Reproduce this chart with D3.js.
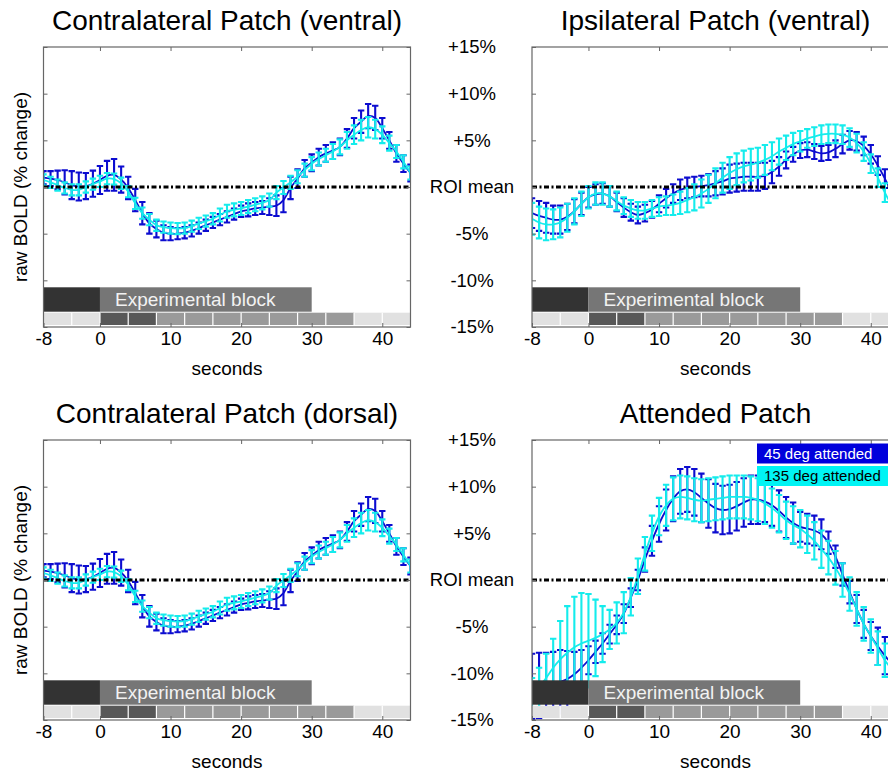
<!DOCTYPE html>
<html>
<head>
<meta charset="utf-8">
<title>Patch time courses</title>
<script src="https://cdn.jsdelivr.net/npm/d3@7/dist/d3.min.js"></script>
<style>
  html, body { margin: 0; padding: 0; background: #fff; }
  svg { display: block; font-family: "Liberation Sans", Arial, Helvetica, sans-serif; }
</style>
</head>
<body>
<div id="viz-container"></div>
<script>
/**
 * Raw BOLD time courses per patch, two attention conditions
 */

// Sample times (seconds), one per TR
const seconds = [-8, -7, -6, -5, -4, -3, -2, -1, 0, 1, 2, 3, 4, 5, 6, 7, 8, 9, 10, 11, 12, 13, 14, 15,
    16, 17, 18, 19, 20, 21, 22, 23, 24, 25, 26, 27, 28, 29, 30, 31, 32, 33, 34, 35, 36, 37, 38, 39,
    40, 41, 42, 43, 44];

const seriesNames = ["45 deg attended", "135 deg attended"];
const panelTitles = ["Contralateral Patch (ventral)", "Ipsilateral Patch (ventral)",
    "Contralateral Patch (dorsal)", "Attended Patch"];

const xTicks = [-8, 0, 10, 20, 30, 40];
const xTickLabels = ["-8", "0", "10", "20", "30", "40"];
const yTicks = [-15, -10, -5, 0, 5, 10, 15];
const yTickLabels = ["-15%", "-10%", "-5%", "ROI mean", "+5%", "+10%", "+15%"];

// Block design (upper bar)
const blockStarts = [-8, 0];
const blockEnds = [0, 30];
const blockKinds = ["pre", "block"];
const blockLabels = ["", "Experimental block"];

// 4 s frames (lower strip)
const frameStarts = [-8, -4, 0, 4, 8, 12, 16, 20, 24, 28, 32, 36, 40];
const frameEnds = [-4, 0, 4, 8, 12, 16, 20, 24, 28, 32, 36, 40, 44];
const frameKinds = ["rest", "rest", "cue", "cue", "stim", "stim", "stim", "stim", "stim", "stim", "stim", "rest", "rest"];

// Contralateral patch (ventral / dorsal look the same)
const contraBlueMean = [
    1.0, 0.9, 0.75, 0.5, 0.2, 0.05, 0.1, 0.35, 0.75, 1.2,
    1.3, 0.8, -0.1, -1.4, -2.8, -3.9, -4.5, -4.9, -5.0, -5.0,
    -4.9, -4.7, -4.4, -4.1, -3.8, -3.5, -3.2, -2.9, -2.6, -2.45,
    -2.3, -2.2, -2.1, -2.0, -1.4, -0.1, 0.9, 2.0, 2.6, 3.2,
    3.6, 3.9, 4.3, 5.2, 6.3, 7.0, 7.6, 7.4, 6.3, 5.0,
    3.6, 2.5, 1.5];
const contraBlueErr = [
    0.7, 0.8, 1.0, 1.3, 1.5, 1.5, 1.4, 1.4, 1.5, 1.6,
    1.7, 1.4, 1.2, 1.2, 1.2, 1.1, 0.9, 0.8, 0.7, 0.6,
    0.6, 0.6, 0.6, 0.6, 0.6, 0.6, 0.6, 0.6, 0.6, 0.7,
    0.7, 0.7, 0.9, 1.1, 1.3, 1.2, 1.0, 0.9, 0.9, 0.9,
    0.9, 0.9, 0.9, 1.0, 1.1, 1.2, 1.3, 1.3, 1.1, 0.9,
    0.9, 0.9, 0.9];
const contraCyanMean = [
    0.75, 0.5, 0.2, -0.1, -0.3, -0.3, 0.0, 0.3, 0.6, 0.9,
    0.85, 0.4, -0.5, -1.75, -2.8, -3.5, -4.1, -4.3, -4.4, -4.45,
    -4.4, -4.2, -3.9, -3.65, -3.4, -3.0, -2.6, -2.45, -2.3, -2.1,
    -1.9, -1.7, -1.4, -0.6, -0.05, 0.5, 1.1, 1.8, 2.5, 3.0,
    3.4, 3.8, 4.3, 5.0, 5.6, 6.1, 6.4, 6.2, 5.6, 4.7,
    3.8, 2.7, 1.5];
const contraCyanErr = [
    0.6, 0.6, 0.6, 0.6, 0.6, 0.6, 0.6, 0.6, 0.6, 0.6,
    0.6, 0.6, 0.6, 0.6, 0.6, 0.6, 0.6, 0.6, 0.6, 0.6,
    0.6, 0.6, 0.6, 0.6, 0.6, 0.7, 0.7, 0.7, 0.7, 0.7,
    0.7, 0.7, 0.7, 0.7, 0.7, 0.7, 0.7, 0.7, 0.7, 0.7,
    0.7, 0.8, 0.8, 0.9, 1.0, 1.1, 1.1, 1.0, 0.9, 0.8,
    0.7, 0.7, 0.7];

// Ipsilateral patch (ventral)
const ipsiBlueMean = [
    -2.8, -3.1, -3.3, -3.5, -3.5, -3.2, -2.6, -1.8, -1.1, -0.8,
    -0.7, -1.0, -1.6, -2.2, -2.7, -3.0, -2.8, -2.4, -1.8, -1.2,
    -0.7, -0.3, -0.1, 0.0, 0.1, 0.2, 0.4, 0.6, 0.9, 1.0,
    1.1, 1.1, 1.1, 1.2, 1.6, 2.2, 2.9, 3.5, 3.9, 4.0,
    3.8, 3.6, 3.7, 4.1, 4.6, 5.0, 4.9, 4.4, 3.5, 2.3,
    0.9, -0.6, -2.0];
const ipsiBlueErr = [
    1.6, 1.6, 1.6, 1.5, 1.5, 1.4, 1.3, 1.2, 1.1, 1.1,
    1.1, 1.1, 1.0, 1.0, 0.9, 0.9, 0.9, 0.9, 0.9, 1.0,
    1.0, 1.1, 1.1, 1.1, 1.1, 1.2, 1.3, 1.4, 1.5, 1.5,
    1.5, 1.5, 1.5, 1.4, 1.2, 1.0, 0.9, 0.8, 0.8, 0.8,
    0.8, 0.8, 0.8, 0.9, 1.0, 1.0, 1.0, 1.0, 1.0, 1.0,
    1.0, 1.0, 1.0];
const ipsiCyanMean = [
    -3.4, -3.8, -4.0, -4.0, -3.8, -3.3, -2.6, -1.8, -1.1, -0.7,
    -0.7, -1.0, -1.5, -2.0, -2.3, -2.5, -2.5, -2.3, -2.1, -2.0,
    -1.9, -1.7, -1.4, -1.1, -0.7, -0.2, 0.4, 1.0, 1.5, 1.9,
    2.2, 2.4, 2.6, 2.9, 3.3, 3.8, 4.2, 4.6, 4.9, 5.2,
    5.4, 5.6, 5.7, 5.7, 5.6, 5.3, 4.7, 3.8, 2.5, 1.0,
    -0.6, -2.0, -3.2];
const ipsiCyanErr = [
    1.7, 1.7, 1.7, 1.6, 1.6, 1.5, 1.4, 1.3, 1.2, 1.2,
    1.2, 1.1, 1.0, 0.9, 0.9, 0.9, 0.9, 0.9, 1.0, 1.0,
    1.1, 1.2, 1.3, 1.4, 1.5, 1.5, 1.6, 1.6, 1.7, 1.7,
    1.7, 1.7, 1.6, 1.6, 1.5, 1.4, 1.3, 1.2, 1.1, 1.0,
    1.0, 1.0, 1.0, 1.0, 1.0, 1.0, 1.0, 1.0, 1.0, 1.0,
    1.0, 1.0, 1.0];

// Attended patch
const attBlueMean = [
    -11.4, -11.3, -11.2, -11.1, -10.9, -10.6, -10.1, -9.4, -8.6, -7.7,
    -6.8, -5.8, -4.8, -3.6, -1.9, 0.0, 2.2, 4.2, 6.0, 7.5,
    8.7, 9.5, 9.7, 9.4, 8.8, 8.2, 7.7, 7.5, 7.6, 7.9,
    8.3, 8.6, 8.6, 8.4, 8.0, 7.4, 6.7, 6.1, 5.7, 5.5,
    5.3, 4.9, 4.0, 2.5, 0.6, -1.3, -3.1, -4.7, -6.0, -7.1,
    -8.1, -9.0, -9.8];
const attBlueErr = [
    3.5, 3.5, 3.4, 3.4, 3.4, 3.0, 2.4, 1.9, 1.5, 1.2,
    1.1, 1.0, 1.0, 1.0, 1.0, 1.1, 1.3, 1.6, 1.9, 2.2,
    2.4, 2.4, 2.4, 2.5, 2.6, 2.6, 2.6, 2.6, 2.6, 2.6,
    2.6, 2.6, 2.6, 2.2, 2.2, 2.2, 2.2, 2.2, 1.6, 1.6,
    1.6, 1.6, 1.2, 1.2, 1.2, 1.2, 1.5, 1.5, 1.5, 2.0,
    2.0, 2.0, 2.0];
const attCyanMean = [
    -12.5, -11.5, -10.5, -9.4, -8.5, -7.8, -7.2, -6.8, -6.5, -6.2,
    -5.8, -5.3, -4.6, -3.5, -1.8, 0.4, 2.8, 5.0, 6.8, 8.0,
    8.7, 8.9, 8.8, 8.6, 8.5, 8.6, 8.7, 8.8, 8.9, 8.9,
    8.9, 8.8, 8.6, 8.2, 7.7, 7.1, 6.4, 5.9, 5.5, 4.9,
    4.2, 3.3, 2.4, 1.3, 0.0, -1.5, -3.1, -4.7, -6.0, -7.3,
    -8.6, -9.6, -10.5];
const attCyanErr = [
    2.0, 2.1, 2.6, 3.1, 4.1, 5.0, 5.4, 5.4, 5.0, 4.1,
    3.0, 2.1, 2.2, 2.2, 2.0, 1.9, 1.8, 1.9, 2.0, 2.2,
    2.3, 2.3, 2.3, 2.3, 2.3, 2.3, 2.3, 2.3, 2.3, 2.3,
    2.3, 2.3, 2.3, 2.2, 2.1, 2.0, 2.0, 2.0, 2.0, 2.0,
    2.0, 2.0, 1.8, 1.8, 1.8, 1.8, 1.8, 1.8, 1.8, 1.8,
    1.8, 1.8, 1.8];

const panels = [
    { title: panelTitles[0], series: [[contraBlueMean, contraBlueErr], [contraCyanMean, contraCyanErr]] },
    { title: panelTitles[1], series: [[ipsiBlueMean, ipsiBlueErr], [ipsiCyanMean, ipsiCyanErr]] },
    { title: panelTitles[2], series: [[contraBlueMean, contraBlueErr], [contraCyanMean, contraCyanErr]] },
    { title: panelTitles[3], series: [[attBlueMean, attBlueErr], [attCyanMean, attCyanErr]], legend: true }
];

// Layout
const width = 888, height = 771;
const plotW = 367, plotH = 280;
const colLeft = [43.5, 532];
const rowTop = [47, 440];

const color = d3.scaleOrdinal().domain(seriesNames).range(["#0c0cd0", "#14ecec"]);
const blockColor = d3.scaleOrdinal().domain(["pre", "block"]).range(["#333333", "#767676"]);
const frameColor = d3.scaleOrdinal().domain(["rest", "cue", "stim"]).range(["#e1e1e1", "#585858", "#9a9a9a"]);

const x = d3.scaleLinear().domain([-8, 44]).range([0, plotW]);
const y = d3.scaleLinear().domain([-15, 15]).range([plotH, 0]);

const svg = d3.select("#viz-container").append("svg")
    .attr("width", width)
    .attr("height", height);

svg.append("rect").attr("width", width).attr("height", height).attr("fill", "#fff");

panels.forEach((p, i) => drawPanel(p, i, colLeft[i % 2], rowTop[Math.floor(i / 2)], i % 2 === 1));

function drawPanel(p, idx, left, top, rightCol) {
    const g = svg.append("g").attr("transform", `translate(${left},${top})`);

    // Title
    g.append("text")
        .attr("x", plotW / 2)
        .attr("y", -17)
        .attr("text-anchor", "middle")
        .style("font-size", "28px")
        .text(p.title);

    const clipId = "plot-clip-" + idx;
    g.append("clipPath").attr("id", clipId)
        .append("rect").attr("width", plotW).attr("height", plotH);

    const layer = g.append("g").attr("clip-path", `url(#${clipId})`);

    const line = d3.line()
        .x(d => x(d.t))
        .y(d => y(d.m))
        .curve(d3.curveCatmullRom.alpha(0.5));

    const cap = 3.2;
    p.series.forEach((s, k) => {
        const pts = seconds.map((t, i) => ({ t: t, m: s[0][i], e: s[1][i] }));
        const col = color(seriesNames[k]);

        // Error bars
        layer.append("g").selectAll("path")
            .data(pts)
            .join("path")
            .attr("d", d => {
                const cx = x(d.t), y0 = y(d.m - d.e), y1 = y(d.m + d.e);
                return `M${cx},${y0}V${y1}M${cx - cap},${y0}H${cx + cap}M${cx - cap},${y1}H${cx + cap}`;
            })
            .attr("fill", "none")
            .attr("stroke", col)
            .attr("stroke-width", 2.1);

        // Mean line
        layer.append("path")
            .datum(pts)
            .attr("fill", "none")
            .attr("stroke", col)
            .attr("stroke-width", 1.8)
            .attr("d", line);
    });

    // ROI mean line
    layer.append("line")
        .attr("x1", 0)
        .attr("x2", plotW)
        .attr("y1", y(0))
        .attr("y2", y(0))
        .attr("stroke", "#000")
        .attr("stroke-width", 3.2)
        .attr("stroke-dasharray", "5,2.5,2,2.5");

    // Block bar
    const barTop = plotH - 39.7, barH = 24.4;
    blockStarts.forEach((b, i) => {
        layer.append("rect")
            .attr("x", x(b))
            .attr("y", barTop)
            .attr("width", x(blockEnds[i]) - x(b))
            .attr("height", barH)
            .attr("fill", blockColor(blockKinds[i]));
        if (blockLabels[i]) {
            layer.append("text")
                .attr("x", x(b) + 15)
                .attr("y", barTop + 19)
                .style("font-size", "19px")
                .style("fill", "#f2f2f2")
                .text(blockLabels[i]);
        }
    });

    // Frame strip
    const stripTop = plotH - 14.3, stripH = 12.3;
    frameStarts.forEach((f, i) => {
        layer.append("rect")
            .attr("x", x(f))
            .attr("y", stripTop)
            .attr("width", x(frameEnds[i]) - x(f))
            .attr("height", stripH)
            .attr("fill", frameColor(frameKinds[i]));
        if (i > 0) {
            layer.append("line")
                .attr("x1", x(f)).attr("x2", x(f))
                .attr("y1", stripTop).attr("y2", stripTop + stripH)
                .attr("stroke", "#fff")
                .attr("stroke-width", 1.2);
        }
    });

    // Axes with inward ticks
    const tickColor = "#666";
    const yAxis = g.append("g")
        .call(d3.axisLeft(y).tickValues(yTicks).tickSizeInner(-4).tickSizeOuter(0)
            .tickFormat((d, i) => rightCol ? yTickLabels[i] : ""));
    yAxis.selectAll("text")
        .attr("x", -60)
        .attr("text-anchor", "middle")
        .style("font-size", "18.5px")
        .style("fill", "#000");

    g.append("g")
        .attr("transform", `translate(${plotW},0)`)
        .call(d3.axisRight(y).tickValues(yTicks).tickSizeInner(-4).tickSizeOuter(0).tickFormat(""));

    g.append("g")
        .call(d3.axisTop(x).tickValues(xTicks.slice(1)).tickSizeInner(-4).tickSizeOuter(0).tickFormat(""));

    const xAxis = g.append("g")
        .attr("transform", `translate(0,${plotH})`)
        .call(d3.axisBottom(x).tickValues(xTicks).tickSizeInner(-4).tickSizeOuter(0).tickPadding(4.5)
            .tickFormat((d, i) => xTickLabels[i]));
    xAxis.selectAll("text")
        .style("font-size", "19px")
        .style("fill", "#000");

    g.selectAll(".domain").remove();
    g.selectAll(".tick line").style("stroke", tickColor);

    // Box
    g.append("rect")
        .attr("width", plotW)
        .attr("height", plotH)
        .attr("fill", "none")
        .attr("stroke", tickColor)
        .attr("stroke-width", 1.2);

    // X label
    g.append("text")
        .attr("x", plotW / 2)
        .attr("y", plotH + 48)
        .attr("text-anchor", "middle")
        .style("font-size", "19px")
        .text("seconds");

    // Y label (left column only)
    if (!rightCol) {
        g.append("text")
            .attr("transform", `translate(-16.5,${plotH / 2}) rotate(-90)`)
            .attr("text-anchor", "middle")
            .style("font-size", "19px")
            .text("raw BOLD (% change)");
    }

    // Legend
    if (p.legend) {
        seriesNames.forEach((name, i) => {
            const ly = 3.5 + i * 22.5;
            g.append("rect")
                .attr("x", 225)
                .attr("y", ly)
                .attr("width", 200)
                .attr("height", 20)
                .attr("fill", i === 0 ? "#0000dc" : "#00f4f4");
            g.append("text")
                .attr("x", 232)
                .attr("y", ly + 15)
                .style("font-size", "15px")
                .style("fill", i === 0 ? "#fff" : "#000")
                .text(name);
        });
    }
}
</script>
</body>
</html>
